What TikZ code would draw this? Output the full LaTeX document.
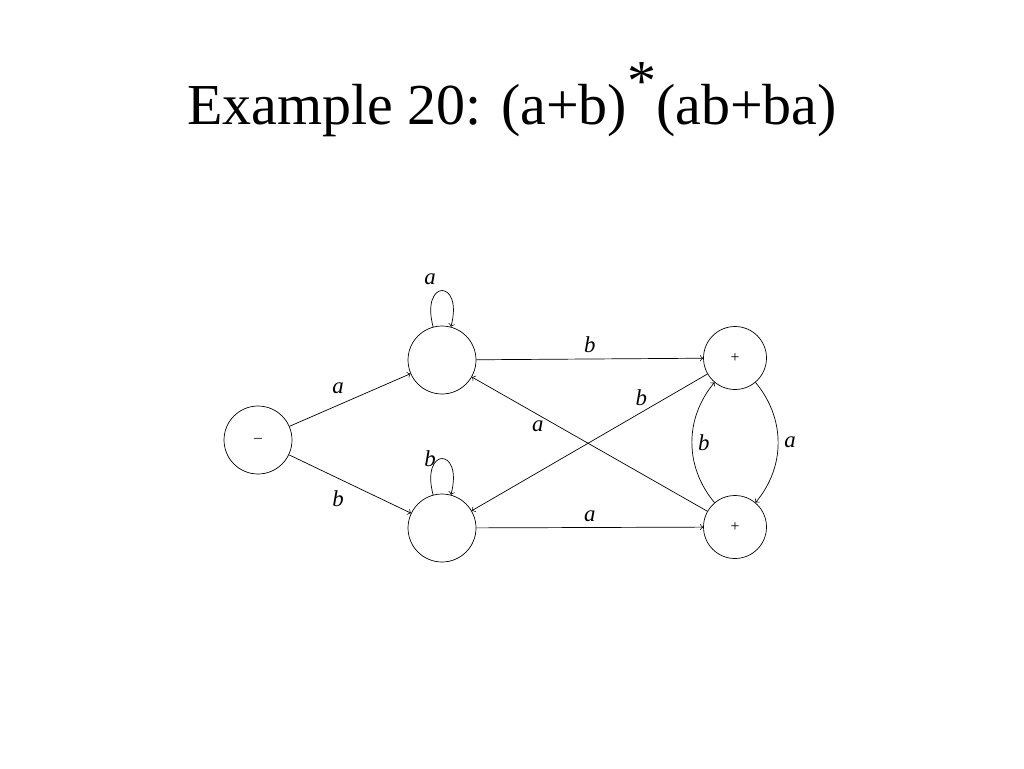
\documentclass[tikz,border=0pt]{standalone}
\usepackage{fontspec}
\setmainfont{Liberation Serif}
\usetikzlibrary{positioning}
\tikzset{
  state/.style={circle, draw, minimum size=1.36cm, inner sep=0pt, font=\small},
  final/.style={circle, draw, minimum size=1.26cm, inner sep=0pt, font=\small},
  lbl/.style={font=\fontsize{13}{15}\selectfont\itshape}
}
\begin{document}
\begin{tikzpicture}[x=0.02cm, y=-0.02cm, ->, >=to]
  \useasboundingbox (0,0) rectangle (1024,768);
  \node[font=\fontsize{33}{38}\selectfont] (title) at (512,100) {Example 20: (a+b)\raisebox{0.9ex}{*}(ab+ba)};

  \node[state] (start) at (258,440) {--};
  \node[state] (q1) at (442,360) {};
  \node[state] (q2) at (442,528) {};
  \node[final] (f1) at (735,358) {+};
  \node[final] (f2) at (735,527) {+};

  \draw (start) -- (q1) node[lbl, midway, above left] {a};
  \draw (start) -- (q2) node[lbl, midway, below left] {b};
  \draw (q1) edge[loop above, looseness=6, min distance=1cm] node[lbl, above left] {a} (q1);
  \draw (q2) edge[loop above, looseness=6, min distance=1cm] node[lbl, left] {b} (q2);
  \draw (q1) -- (f1) node[lbl, midway, above] {b};
  \draw (q2) -- (f2) node[lbl, midway, above] {a};
  \draw (f2) -- (q1) node[lbl, pos=0.72, below] {a};
  \draw (f1) -- (q2) node[lbl, pos=0.28, above] {b};
  \draw (f1) to[bend left=40] node[lbl, right] {a} (f2);
  \draw (f2) to[bend left=40] node[lbl, right] {b} (f1);
\end{tikzpicture}
\end{document}
